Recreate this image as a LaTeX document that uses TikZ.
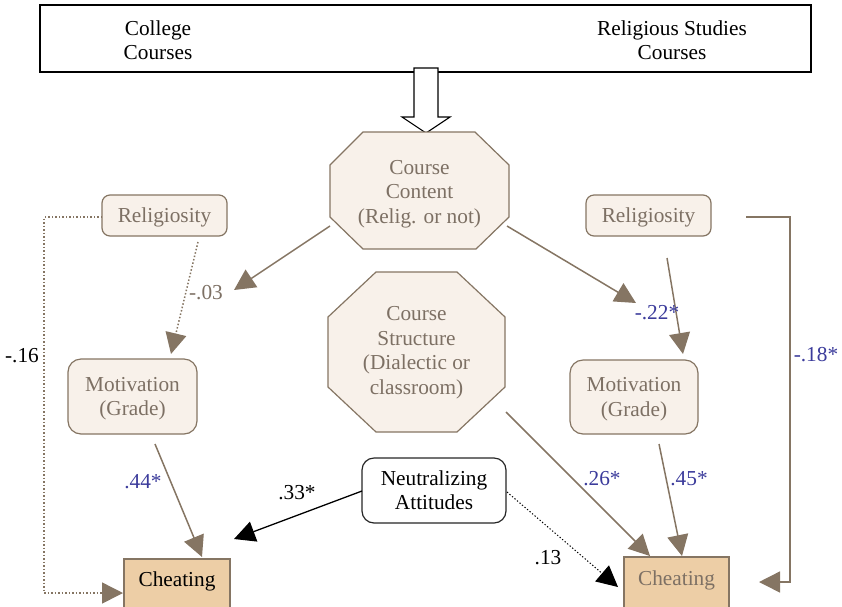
\documentclass[tikz,border=0pt]{standalone}
\usepackage{fontspec}
\setmainfont{Liberation Serif}
\usetikzlibrary{arrows.meta}
\definecolor{brn}{HTML}{857563}
\definecolor{lfill}{HTML}{F8F1EA}
\definecolor{chfill}{HTML}{EDCEA6}
\definecolor{gtxt}{HTML}{7D7064}
\definecolor{blu}{HTML}{3B3B9B}
\begin{document}
\begin{tikzpicture}[x=1pt,y=-1pt,
  font=\fontsize{21.3}{24.5}\selectfont,
  rbox/.style={draw=brn, fill=lfill, rounded corners=8pt, line width=1.2pt, text=gtxt, align=center, inner sep=0pt, text depth=0.5pt},
  mbox/.style={rbox, rounded corners=13pt},
  octo/.style={draw=brn, fill=lfill, line width=1.2pt},
  chbox/.style={draw=brn, fill=chfill, line width=1.2pt},
  txt/.style={align=center, inner sep=0pt},
  lbl/.style={inner sep=0pt},
  tip/.style={-{Triangle[length=21pt,width=21pt]}},
  barr/.style={tip, draw=brn, line width=1.5pt, color=brn},
  barrdot/.style={barr, dotted},
  karr/.style={tip, draw=black, line width=1.3pt, color=black},
  karrdot/.style={karr, dotted, line width=1pt}
]
\useasboundingbox (0,0) rectangle (842,606);

% top box
\draw[line width=1.1pt] (40,5) rectangle (811,72);
\node[txt] (college) at (158,40) {College\\Courses};
\node[txt] (relstud) at (672,40) {Religious Studies\\Courses};

% hollow arrow
\draw[fill=white, line width=1.1pt, line join=miter] (414,68) -- (414,117) -- (402,117) -- (426,133) -- (450,117) -- (438,117) -- (438,68) -- cycle;

% octagons
\draw[octo] (363,132) -- (475,132) -- (509,165) -- (509,217) -- (476,249) -- (363,249) -- (330,217) -- (330,165) -- cycle;
\node[txt, text=gtxt] (cc) at (419.5,194) {Course\\Content\\(Relig. or not)};
\draw[octo] (376,272) -- (457,272) -- (505,317) -- (505,387) -- (457,432) -- (376,432) -- (328,387) -- (328,317) -- cycle;
\node[txt, text=gtxt] (cs) at (416.5,352.5) {Course\\Structure\\(Dialectic or\\classroom)};

% boxes
\node[rbox, minimum width=125pt, minimum height=41pt] (relL) at (164.5,215.5) {Religiosity};
\node[rbox, minimum width=125pt, minimum height=41pt] (relR) at (648.5,215.5) {Religiosity};
\node[mbox, minimum width=129pt, minimum height=75pt] (motL) at (132.5,396.5) {Motivation\\(Grade)};
\node[mbox, minimum width=128pt, minimum height=74pt] (motR) at (634,397) {Motivation\\(Grade)};
\node[draw=black!85, fill=white, rounded corners=12pt, line width=1.2pt, align=center, inner sep=0pt, text depth=0.5pt, minimum width=144pt, minimum height=65pt] (neut) at (434,490.5) {Neutralizing\\Attitudes};

\draw[chbox] (124,559) rectangle (230,620);
\node[txt] (cheL) at (177,581) {Cheating};
\draw[chbox] (624,557) rectangle (729,620);
\node[txt, text=gtxt] (cheR) at (676.5,580) {Cheating};

% coordinates
\coordinate (ccL) at (330,226);
\coordinate (ccLt) at (234,290);
\coordinate (ccR) at (507,226);
\coordinate (ccRt) at (636,303);
\coordinate (rlA) at (198,242);
\coordinate (rlB) at (171,354);
\coordinate (rrA) at (667,258);
\coordinate (rrB) at (683,354);
\coordinate (mlA) at (155,444);
\coordinate (mlB) at (202,557);
\coordinate (mrA) at (659,444);
\coordinate (mrB) at (682,556);
\coordinate (csA) at (506,412);
\coordinate (csB) at (650,556);
\coordinate (nlA) at (362,491);
\coordinate (nlB) at (234,539);
\coordinate (nrA) at (507,492);
\coordinate (nrB) at (618,587);
\coordinate (dlA) at (102,217);
\coordinate (dlB) at (44,217);
\coordinate (dlC) at (44,593);
\coordinate (dlD) at (123,593);
\coordinate (drA) at (746,217);
\coordinate (drB) at (790,217);
\coordinate (drC) at (790,582);
\coordinate (drD) at (759,582);

% connectors
\draw[barr] (ccL) -- (ccLt);
\draw[barr] (ccR) -- (ccRt);
\draw[barrdot] (rlA) -- (rlB);
\draw[barr] (rrA) -- (rrB);
\draw[barr] (mlA) -- (mlB);
\draw[barr] (mrA) -- (mrB);
\draw[barr] (csA) -- (csB);
\draw[karr] (nlA) -- (nlB);
\draw[karrdot] (nrA) -- (nrB);
\draw[barrdot] (dlA) -- (dlB) -- (dlC) -- (dlD);
\draw[barr] (drA) -- (drB) -- (drC) -- (drD);

% labels
\node[lbl, text=gtxt] (l03) at (206,293) {-.03};
\node[lbl, text=blu] (l22) at (657,313) {-.22*};
\node[lbl] (l16) at (22,356) {-.16};
\node[lbl, text=blu] (l18) at (816,355) {-.18*};
\node[lbl, text=blu] (l44) at (143,482) {.44*};
\node[lbl] (l33) at (297,493) {.33*};
\node[lbl] (l13) at (548,558) {.13};
\node[lbl, text=blu] (l26) at (602,479) {.26*};
\node[lbl, text=blu] (l45) at (689,479) {.45*};
\end{tikzpicture}
\end{document}
